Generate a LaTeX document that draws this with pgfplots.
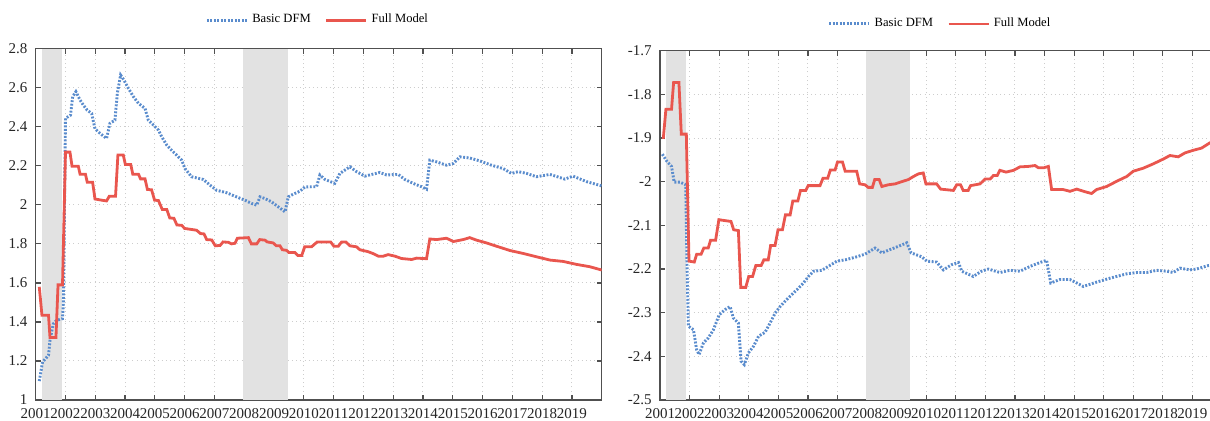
\documentclass[border=0pt]{standalone}
\usepackage{fontspec}
\setmainfont{Liberation Serif}
\usepackage{pgfplots}
\pgfplotsset{compat=1.18}
\definecolor{dfmblue}{RGB}{90,140,205}
\definecolor{fullred}{RGB}{233,86,78}
\definecolor{recess}{RGB}{226,226,226}
\definecolor{axgray}{RGB}{80,80,80}
\definecolor{gridgray}{RGB}{205,205,205}
\pgfplotsset{
  myaxis/.style={
    scale only axis,
    xmin=2001, xmax=2020,
    xtick={2001,2002,2003,2004,2005,2006,2007,2008,2009,2010,2011,2012,2013,2014,2015,2016,2017,2018,2019},
    xticklabels={2001,2002,2003,2004,2005,2006,2007,2008,2009,2010,2011,2012,2013,2014,2015,2016,2017,2018,2019},
    tick pos=both, tick align=inside,
    major tick length=2.5pt,
    axis line style={axgray, line width=0.6pt},
    tick style={axgray, line width=0.6pt},
    xmajorgrids, ymajorgrids,
    grid style={gridgray, line width=0.5pt, dash pattern=on 0.5pt off 1.6pt},
    ticklabel style={font=\fontsize{7.5}{9}\selectfont, text=black!85},
    xticklabel style={yshift=-1.6pt, inner sep=2.5pt},
    yticklabel style={xshift=-0.6pt},
    legend columns=2,
    legend image code/.code={\draw[#1] (0pt,0pt) -- (20pt,0pt);},
    legend style={draw=none, fill=none, inner sep=0pt,
      font=\fontsize{6.3}{7.5}\selectfont,
      /tikz/every even column/.append style={column sep=5pt}},
  },
  dfm/.style={dfmblue, line width=1.45pt, dash pattern=on 0.95pt off 0.8pt},
  full/.style={fullred, line width=1.4pt},
  band/.style={fill=recess, draw=none, forget plot},
}
\begin{document}
\begin{tikzpicture}
% ---------------- Left panel ----------------
\begin{axis}[myaxis,
  at={(17.85pt,10pt)}, anchor=south west,
  width=283pt, height=175.65pt,
  ymin=1, ymax=2.8,
  ytick={1,1.2,1.4,1.6,1.8,2,2.2,2.4,2.6,2.8},
  yticklabels={1,1.2,1.4,1.6,1.8,2,2.2,2.4,2.6,2.8},
  legend style={at={(0.5,1)}, anchor=center, yshift=14.3pt},
]
\addplot[band] coordinates {(2001.2,1) (2001.2,2.8) (2001.88,2.8) (2001.88,1)};
\addplot[band] coordinates {(2007.96,1) (2007.96,2.8) (2009.46,2.8) (2009.46,1)};
\addplot[dfm] coordinates {
(2001.12,1.097) (2001.23,1.195) (2001.43,1.229) (2001.48,1.306) (2001.59,1.39)
(2001.70,1.408) (2001.90,1.417) (2001.93,1.50) (2002.00,2.443) (2002.17,2.46)
(2002.24,2.554) (2002.35,2.58) (2002.49,2.537) (2002.60,2.511) (2002.73,2.485)
(2002.88,2.468) (2002.99,2.39) (2003.16,2.366) (2003.38,2.34) (2003.49,2.417)
(2003.66,2.434) (2003.74,2.571) (2003.85,2.665) (2003.96,2.64) (2004.11,2.597)
(2004.28,2.554) (2004.45,2.52) (2004.67,2.494) (2004.78,2.434) (2004.95,2.409)
(2005.12,2.383) (2005.23,2.349) (2005.40,2.306) (2005.56,2.28) (2005.73,2.255)
(2005.90,2.229) (2006.01,2.186) (2006.23,2.144) (2006.63,2.13) (2006.85,2.101)
(2007.07,2.075) (2007.41,2.062) (2007.74,2.041) (2008.02,2.024) (2008.25,2.007)
(2008.42,1.998) (2008.53,2.041) (2008.70,2.032) (2008.92,2.015) (2009.14,1.99)
(2009.37,1.964) (2009.48,2.041) (2009.65,2.055) (2009.87,2.07) (2010.04,2.092)
(2010.43,2.093) (2010.54,2.153) (2010.71,2.13) (2011.04,2.11) (2011.21,2.161)
(2011.55,2.195) (2011.77,2.17) (2012.05,2.147) (2012.55,2.166) (2012.78,2.153)
(2013.17,2.156) (2013.39,2.13) (2013.67,2.11) (2013.95,2.093) (2014.12,2.08)
(2014.23,2.229) (2014.46,2.22) (2014.79,2.203) (2015.02,2.212) (2015.24,2.246)
(2015.57,2.24) (2015.91,2.225) (2016.30,2.203) (2016.69,2.186) (2016.97,2.161)
(2017.20,2.17) (2017.48,2.161) (2017.81,2.144) (2018.26,2.156) (2018.76,2.132)
(2019.04,2.147) (2019.49,2.119) (2020.00,2.097)
};
\addlegendentry{Basic DFM}
\addplot[full] coordinates {
(2001.12,1.58) (2001.21,1.434) (2001.43,1.434) (2001.48,1.32) (2001.68,1.32)
(2001.75,1.59) (2001.90,1.59) (2002.00,2.27) (2002.15,2.27) (2002.22,2.198)
(2002.43,2.198) (2002.49,2.157) (2002.67,2.157) (2002.73,2.116) (2002.91,2.116)
(2002.99,2.03) (2003.21,2.024) (2003.38,2.02) (2003.47,2.044) (2003.68,2.044)
(2003.76,2.255) (2003.94,2.255) (2004.01,2.207) (2004.19,2.207) (2004.26,2.157)
(2004.45,2.157) (2004.52,2.133) (2004.67,2.133) (2004.75,2.079) (2004.89,2.077)
(2004.99,2.024) (2005.12,2.022) (2005.25,1.976) (2005.40,1.976) (2005.50,1.933)
(2005.64,1.931) (2005.74,1.897) (2005.90,1.895) (2006.00,1.879) (2006.40,1.870)
(2006.53,1.853) (2006.65,1.851) (2006.74,1.822) (2006.91,1.820) (2007.03,1.790)
(2007.19,1.792) (2007.29,1.810) (2007.47,1.808) (2007.57,1.800) (2007.69,1.803)
(2007.77,1.829) (2008.14,1.832) (2008.24,1.800) (2008.42,1.800) (2008.52,1.822)
(2008.70,1.819) (2008.77,1.810) (2008.97,1.805) (2009.08,1.790) (2009.20,1.790)
(2009.28,1.770) (2009.42,1.767) (2009.50,1.756) (2009.70,1.756) (2009.80,1.740)
(2009.93,1.740) (2010.03,1.785) (2010.26,1.785) (2010.45,1.810) (2010.90,1.810)
(2011.01,1.788) (2011.16,1.788) (2011.27,1.810) (2011.41,1.810) (2011.55,1.790)
(2011.77,1.785) (2011.88,1.770) (2012.16,1.760) (2012.33,1.750) (2012.50,1.737)
(2012.67,1.737) (2012.83,1.745) (2013.06,1.737) (2013.28,1.725) (2013.62,1.720)
(2013.79,1.727) (2014.12,1.724) (2014.23,1.825) (2014.46,1.822) (2014.79,1.829)
(2015.02,1.812) (2015.35,1.822) (2015.57,1.832) (2015.80,1.819) (2016.13,1.805)
(2016.47,1.788) (2016.92,1.766) (2017.36,1.751) (2017.81,1.734) (2018.26,1.717)
(2018.71,1.710) (2019.15,1.695) (2019.60,1.683) (2020.00,1.666)
};
\addlegendentry{Full Model}
\end{axis}
% ---------------- Right panel ----------------
\begin{axis}[myaxis,
  at={(330pt,10pt)}, anchor=south west,
  width=281pt, height=174.65pt,
  ymin=-2.5, ymax=-1.7,
  ytick={-2.5,-2.4,-2.3,-2.2,-2.1,-2,-1.9,-1.8,-1.7},
  yticklabels={-2.5,-2.4,-2.3,-2.2,-2.1,-2,-1.9,-1.8,-1.7},
  legend style={at={(0.5,1)}, anchor=center, yshift=13.4pt},
]
\addplot[band] coordinates {(2001.2,-2.5) (2001.2,-1.7) (2001.88,-1.7) (2001.88,-2.5)};
\addplot[band] coordinates {(2007.96,-2.5) (2007.96,-1.7) (2009.46,-1.7) (2009.46,-2.5)};
\addplot[dfm] coordinates {
(2001.08,-1.937) (2001.23,-1.953) (2001.39,-1.965) (2001.48,-2.001) (2001.68,-2.001)
(2001.87,-2.007) (2001.91,-2.179) (2001.96,-2.331) (2002.13,-2.339) (2002.24,-2.385)
(2002.32,-2.396) (2002.47,-2.369) (2002.63,-2.358) (2002.80,-2.340) (2003.00,-2.305)
(2003.20,-2.293) (2003.37,-2.286) (2003.48,-2.312) (2003.65,-2.324) (2003.74,-2.411)
(2003.85,-2.419) (2003.99,-2.392) (2004.16,-2.377) (2004.33,-2.354) (2004.55,-2.345)
(2004.72,-2.324) (2004.89,-2.301) (2005.06,-2.286) (2005.28,-2.270) (2005.45,-2.259)
(2005.68,-2.244) (2005.85,-2.232) (2006.02,-2.217) (2006.19,-2.205) (2006.47,-2.203)
(2006.69,-2.194) (2006.98,-2.182) (2007.26,-2.179) (2007.60,-2.173) (2007.93,-2.166)
(2008.27,-2.152) (2008.50,-2.163) (2008.72,-2.157) (2009.06,-2.148) (2009.34,-2.140)
(2009.49,-2.163) (2009.85,-2.172) (2010.02,-2.182) (2010.35,-2.184) (2010.58,-2.202)
(2010.86,-2.190) (2011.09,-2.185) (2011.20,-2.205) (2011.59,-2.217) (2011.87,-2.205)
(2012.10,-2.200) (2012.49,-2.208) (2012.83,-2.203) (2013.17,-2.205) (2013.51,-2.194)
(2013.85,-2.185) (2014.07,-2.180) (2014.21,-2.232) (2014.52,-2.224) (2014.86,-2.224)
(2015.09,-2.232) (2015.31,-2.240) (2015.76,-2.230) (2016.21,-2.221) (2016.78,-2.211)
(2017.12,-2.208) (2017.45,-2.208) (2017.79,-2.203) (2018.13,-2.205) (2018.35,-2.208)
(2018.58,-2.198) (2018.92,-2.202) (2019.14,-2.200) (2019.54,-2.192) (2020.00,-2.190)
};
\addlegendentry{Basic DFM}
\addplot[full] coordinates {
(2001.11,-1.902) (2001.20,-1.834) (2001.39,-1.834) (2001.46,-1.773) (2001.64,-1.773)
(2001.72,-1.891) (2001.89,-1.891) (2001.98,-2.182) (2002.16,-2.184) (2002.24,-2.166)
(2002.39,-2.166) (2002.48,-2.152) (2002.63,-2.152) (2002.71,-2.134) (2002.88,-2.134)
(2002.99,-2.087) (2003.18,-2.089) (2003.40,-2.091) (2003.49,-2.110) (2003.65,-2.112)
(2003.73,-2.242) (2003.90,-2.242) (2004.00,-2.217) (2004.13,-2.217) (2004.24,-2.192)
(2004.42,-2.192) (2004.51,-2.179) (2004.66,-2.179) (2004.74,-2.146) (2004.89,-2.146)
(2004.99,-2.110) (2005.14,-2.110) (2005.24,-2.076) (2005.40,-2.076) (2005.49,-2.044)
(2005.66,-2.044) (2005.75,-2.020) (2005.93,-2.020) (2006.01,-2.009) (2006.41,-2.009)
(2006.51,-1.992) (2006.67,-1.992) (2006.76,-1.973) (2006.92,-1.973) (2007.00,-1.955)
(2007.17,-1.955) (2007.26,-1.976) (2007.65,-1.976) (2007.75,-2.005) (2007.93,-2.007)
(2008.04,-2.013) (2008.18,-2.013) (2008.26,-1.995) (2008.41,-1.995) (2008.50,-2.011)
(2008.72,-2.007) (2008.95,-2.005) (2009.17,-2.000) (2009.40,-1.995) (2009.57,-1.988)
(2009.74,-1.982) (2009.90,-1.980) (2009.99,-2.005) (2010.35,-2.005) (2010.49,-2.017)
(2010.92,-2.020) (2011.03,-2.007) (2011.16,-2.007) (2011.25,-2.020) (2011.42,-2.020)
(2011.50,-2.009) (2011.82,-2.005) (2011.99,-1.994) (2012.16,-1.994) (2012.27,-1.986)
(2012.40,-1.986) (2012.49,-1.974) (2012.70,-1.978) (2012.95,-1.974) (2013.17,-1.966)
(2013.45,-1.965) (2013.68,-1.963) (2013.79,-1.968) (2013.98,-1.968) (2014.13,-1.965)
(2014.24,-2.018) (2014.63,-2.018) (2014.86,-2.022) (2015.09,-2.017) (2015.37,-2.023)
(2015.59,-2.027) (2015.76,-2.018) (2016.10,-2.011) (2016.44,-1.999) (2016.78,-1.988)
(2017.00,-1.976) (2017.34,-1.969) (2017.68,-1.959) (2018.02,-1.948) (2018.24,-1.940)
(2018.52,-1.943) (2018.75,-1.934) (2019.03,-1.928) (2019.31,-1.923) (2019.59,-1.911)
(2020.00,-1.900)
};
\addlegendentry{Full Model}
\end{axis}
\pgfresetboundingbox
\useasboundingbox (0,0) rectangle (605pt,210pt);
\end{tikzpicture}
\end{document}
